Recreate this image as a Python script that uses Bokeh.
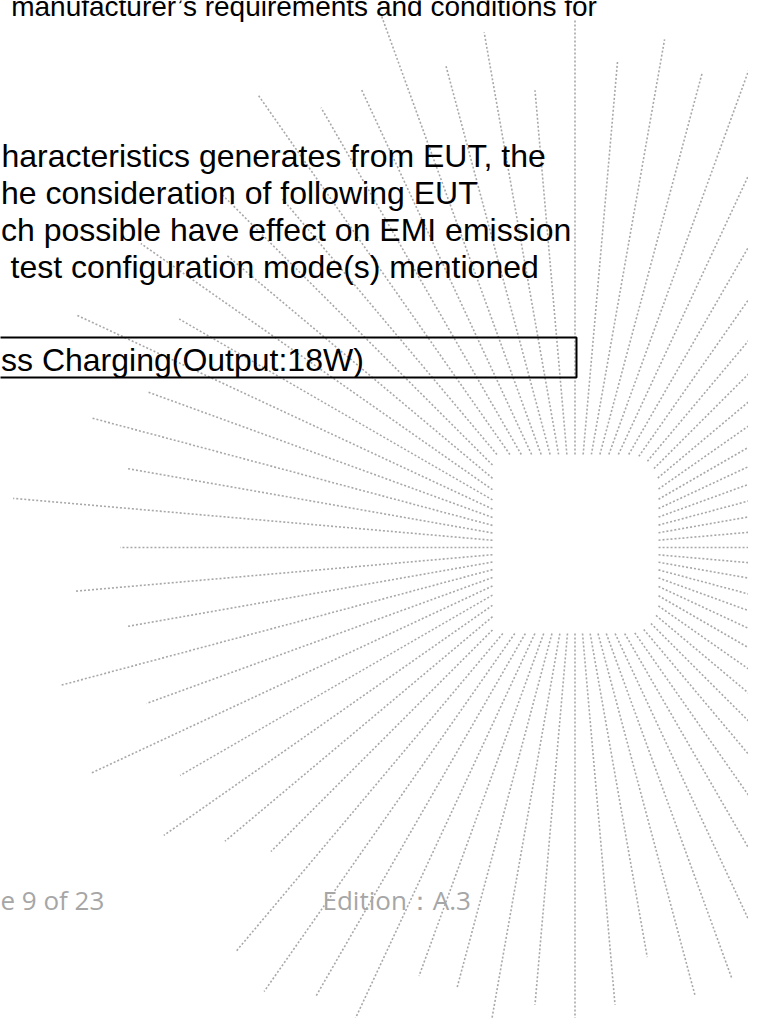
import numpy as np
from bokeh.plotting import figure
from bokeh.models import Range1d
from bokeh.core.properties import value
from bokeh.embed import file_html
from bokeh.resources import INLINE

# ---------------- data ----------------
# sunburst rays: angle (deg, counter-clockwise from +x) and outer radius (px)
ray_angle_deg = list(range(0, 360, 5))
ray_outer_radius = [
    500, 500, 500, 500, 500, 500, 500, 500, 500, 500, 500, 500,   # 0-55
    500, 500, 560, 492, 516, 489, 527, 459, 523, 500, 565, 506,   # 60-115
    508, 553, 455, 500, 455, 530, 457, 551, 455, 501, 455, 564,   # 120-175
    455, 501, 455, 532, 456, 534, 456, 502, 457, 430, 528, 542,   # 180-235
    518, 535, 456, 457, 492, 459, 475, 459, 416, 465, 458, 500,   # 240-295
    500, 500, 500, 500, 500, 500, 500, 500, 500, 500, 500, 500,   # 300-355
]
burst_center = (574.5, 547.0)
hole_box = (492.0, 658.0, 454.0, 633.0)   # left, right, top, bottom
hole_corner_radius = 30.0

body_lines = [
    "manufacturer\u2019s requirements and conditions for",
    "haracteristics generates from EUT, the",
    "he consideration of following EUT",
    "ch possible have effect on EMI emission",
    "test configuration mode(s) mentioned",
]
mode_label = "ss Charging(Output:18W)"
footer_left = "e 9 of 23"
footer_right = "Edition\uff1aA.3"

# ---------------- layout / style ----------------
text_dy = -9.0   # renderer baseline correction
body_x = [10.7, 1.0, 0.5, 0.5, 10.0]
body_y = [15.0, 164.0, 201.0, 238.0, 275.0]
body_size = ["28px", "32px", "32px", "32px", "32px"]

def inside_hole(x, y):
    L, R, T, B = hole_box
    rc = hole_corner_radius
    inn = (x >= L) & (x <= R) & (y >= T) & (y <= B)
    cx = R - rc
    tr = (x > cx) & (y < T + rc)
    br = (x > cx) & (y > B - rc)
    inn_tr = (x - cx) ** 2 + (y - (T + rc)) ** 2 <= rc ** 2
    inn_br = (x - cx) ** 2 + (y - (B - rc)) ** 2 <= rc ** 2
    res = inn.copy()
    res[tr] = inn[tr] & inn_tr[tr]
    res[br] = inn[br] & inn_br[br]
    return res

cx0, cy0 = burst_center
ts = np.linspace(0, 200, 4001)
xs, ys = [], []
for ang, r_out in zip(ray_angle_deg, ray_outer_radius):
    th = np.deg2rad(ang)
    dx, dy = np.cos(th), -np.sin(th)
    px = cx0 + ts * dx
    py = cy0 + ts * dy
    ins = inside_hole(px, py)
    r_in = ts[np.argmax(~ins)]
    xs.append([cx0 + r_in * dx, cx0 + r_out * dx])
    ys.append([cy0 + r_in * dy, cy0 + r_out * dy])

p = figure(width=748, height=1018,
           x_range=Range1d(0, 748), y_range=Range1d(1018, 0),
           output_backend="svg", toolbar_location=None,
           x_axis_type=None, y_axis_type=None,
           min_border=0, min_border_left=0, min_border_right=0,
           min_border_top=0, min_border_bottom=0,
           outline_line_color=None)
p.background_fill_color = "white"
p.border_fill_color = "white"

p.multi_line(xs, ys, line_color="#a8a8a8", line_width=1.6, line_dash="2 2")

# table cell box
p.quad(left=[-20], right=[576], top=[337], bottom=[377],
       fill_color=None, line_color="black", line_width=2)

for t, x, y, s in zip(body_lines, body_x, body_y, body_size):
    p.text(x=[x], y=[y + text_dy], text=[t], text_font=value("Liberation Sans"),
           text_font_size=s, text_color="black",
           text_baseline="alphabetic", text_align="left")

p.text(x=[0.5], y=[368.0 + text_dy], text=[mode_label], text_font=value("Liberation Sans"),
       text_font_size="32px", text_color="black",
       text_baseline="alphabetic", text_align="left")

p.text(x=[0.0], y=[908.0 + text_dy], text=[footer_left], text_font=value("Open Sans"),
       text_font_size="26px", text_color="#a6a6a6",
       text_baseline="alphabetic", text_align="left")
p.text(x=[322.0], y=[908.0 + text_dy], text=[footer_right], text_font=value("Open Sans"),
       text_font_size="26px", text_color="#a6a6a6",
       text_baseline="alphabetic", text_align="left")

open("out.html", "w").write(file_html(p, INLINE))
